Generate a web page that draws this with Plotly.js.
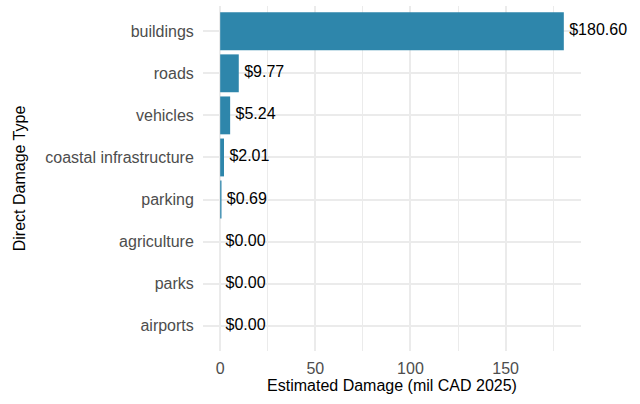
<!DOCTYPE html>
<html>
<head>
<meta charset="utf-8">
<script src="https://cdn.plot.ly/plotly-3.0.1.min.js"></script>
<style>html,body{margin:0;padding:0;background:#fff;}#chart{width:640px;height:404px;}</style>
</head>
<body>
<div id="chart"></div>
<script>
var categories = ["buildings", "roads", "vehicles", "coastal infrastructure", "parking", "agriculture", "parks", "airports"];
var damage = [180.60, 9.77, 5.24, 2.01, 0.69, 0.00, 0.00, 0.00];
var labels = damage.map(function(v){ return "$" + v.toFixed(2); });
var xTicks = [0, 50, 100, 150];

var font = "'Liberation Sans', Arial, sans-serif";

var bars = {
  type: "bar",
  orientation: "h",
  x: damage,
  y: categories,
  width: 0.9,
  marker: {color: "#2E86AB", line: {width: 0}},
  hoverinfo: "x+y",
  showlegend: false
};
var text = {
  type: "scatter",
  mode: "markers+text",
  x: damage,
  y: categories,
  text: labels,
  textposition: "middle right",
  marker: {size: 7, opacity: 0},
  textfont: {family: font, size: 16, color: "#000000"},
  cliponaxis: false,
  hoverinfo: "skip",
  showlegend: false
};

var layout = {
  width: 640,
  height: 404,
  margin: {l: 203, r: 59, t: 6, b: 53},
  paper_bgcolor: "#ffffff",
  plot_bgcolor: "#ffffff",
  font: {family: font, size: 16, color: "#4D4D4D"},
  bargap: 0.1,
  xaxis: {
    range: [-9.03, 189.63],
    tickvals: xTicks,
    ticktext: xTicks.map(String),
    showgrid: true,
    gridcolor: "#EBEBEB",
    gridwidth: 2,
    minor: {dtick: 25, tick0: 0, showgrid: true, gridcolor: "#EBEBEB", gridwidth: 1},
    zeroline: false,
    showline: false,
    ticks: "outside",
    ticklen: 3,
    tickcolor: "rgba(0,0,0,0)",
    tickfont: {family: font, size: 16, color: "#4D4D4D"},
    title: {text: "Estimated Damage (mil CAD 2025)", font: {family: font, size: 16, color: "#000000"}, standoff: 3}
  },
  yaxis: {
    type: "category",
    categoryorder: "array",
    categoryarray: categories,
    range: [7.6, -0.6],
    showgrid: true,
    gridcolor: "#EBEBEB",
    gridwidth: 2,
    zeroline: false,
    showline: false,
    ticks: "outside",
    ticklen: 5,
    tickcolor: "rgba(0,0,0,0)",
    tickfont: {family: font, size: 16, color: "#4D4D4D"},
    title: {text: "Direct Damage Type", font: {family: font, size: 16, color: "#000000"}, standoff: 15}
  }
};

Plotly.newPlot("chart", [bars, text], layout, {displayModeBar: false, staticPlot: true});
</script>
</body>
</html>
